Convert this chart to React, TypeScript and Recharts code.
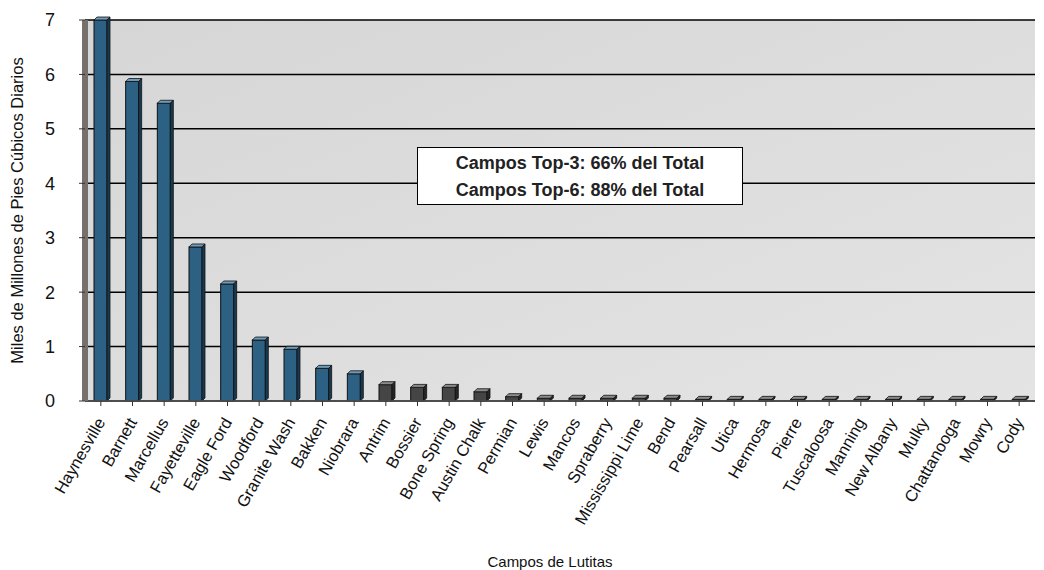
import React from 'react'
import { BarChart, Bar, Cell, XAxis, YAxis, CartesianGrid, Label } from 'recharts'

const campos = [
  'Haynesville', 'Barnett', 'Marcellus', 'Fayetteville', 'Eagle Ford', 'Woodford',
  'Granite Wash', 'Bakken', 'Niobrara', 'Antrim', 'Bossier', 'Bone Spring',
  'Austin Chalk', 'Permian', 'Lewis', 'Mancos', 'Spraberry', 'Mississippi Lime',
  'Bend', 'Pearsall', 'Utica', 'Hermosa', 'Pierre', 'Tuscaloosa', 'Manning',
  'New Albany', 'Mulky', 'Chattanooga', 'Mowry', 'Cody',
]

const produccion = [
  7.0, 5.87, 5.47, 2.83, 2.15, 1.12, 0.95, 0.6, 0.5, 0.3, 0.25, 0.25, 0.17, 0.08,
  0.05, 0.05, 0.05, 0.05, 0.05, 0.03, 0.03, 0.03, 0.03, 0.03, 0.03, 0.03, 0.03,
  0.03, 0.03, 0.03,
]

const yTicks = [0, 1, 2, 3, 4, 5, 6, 7]

const notas = ['Campos Top-3: 66% del Total', 'Campos Top-6: 88% del Total']

const data = campos.map((name, i) => ({ name, value: produccion[i] }))

const FONT = '"Liberation Sans Narrow", "Arial Narrow", "Liberation Sans", Arial, sans-serif'

// front face + top + side to fake the old excel 3d look
function Bar3D(props: any) {
  const { x, y, width, height, index } = props
  const blue = index < 9
  const front = blue ? '#2c6184' : '#454545'
  const top = blue ? '#6f9ab8' : '#8a8a8a'
  const side = blue ? '#173a52' : '#262626'
  const d = 3
  const h = Math.max(height, 1)
  return (
    <g>
      <rect x={x} y={y} width={width} height={h} fill={front} stroke="#111" strokeWidth={1} />
      <polygon
        points={`${x},${y} ${x + d},${y - d} ${x + width + d},${y - d} ${x + width},${y}`}
        fill={top}
        stroke="#111"
        strokeWidth={0.8}
      />
      <polygon
        points={`${x + width},${y} ${x + width + d},${y - d} ${x + width + d},${y + h - d} ${x + width},${y + h}`}
        fill={side}
        stroke="#111"
        strokeWidth={0.8}
      />
    </g>
  )
}

function SlantTick(props: any) {
  const { x, y, payload } = props
  return (
    <g transform={`translate(${x + 5},${y + 14})`}>
      <text
        x={0}
        y={0}
        textAnchor="end"
        transform="rotate(-60)"
        fontSize={16.5}
        fontFamily={FONT}
        fill="#111"
      >
        {payload.value}
      </text>
    </g>
  )
}

export default function App() {
  return (
    <div style={{ position: 'absolute', left: 0, top: 0, width: 1044, height: 570, background: '#fff' }}>
      <svg width={0} height={0} style={{ position: 'absolute' }}>
        <defs>
          <linearGradient id="plotBg" x1="0" y1="0" x2="1" y2="1">
            <stop offset="0%" stopColor="#d6d6d6" />
            <stop offset="100%" stopColor="#e4e4e4" />
          </linearGradient>
        </defs>
      </svg>
      <BarChart
        width={1044}
        height={570}
        data={data}
        margin={{ top: 20, right: 9, left: 0, bottom: 0 }}
        barSize={13}
      >
        <CartesianGrid
          vertical={false}
          stroke="#000"
          strokeWidth={1.5}
          fill="url(#plotBg)"
          fillOpacity={1}
        />
        <XAxis
          dataKey="name"
          interval={0}
          height={169}
          tick={<SlantTick />}
          tickLine={{ stroke: '#333' }}
          tickSize={5}
          axisLine={{ stroke: '#555', strokeWidth: 1.5 }}
        >
          <Label
            value="Campos de Lutitas"
            position="insideBottom"
            offset={3}
            dx={-10}
            fontSize={15}
            fontFamily={FONT}
            fill="#111"
          />
        </XAxis>
        <YAxis
          domain={[0, 7]}
          ticks={yTicks}
          width={85}
          tickSize={6}
          tickLine={{ stroke: '#333' }}
          axisLine={{ stroke: '#77716c', strokeWidth: 6 }}
          tick={{ fontSize: 18, fontFamily: FONT, fill: '#111', dx: -22 }}
        >
          <Label
            value="Miles de Millones de Pies Cúbicos Diarios"
            angle={-90}
            position="insideLeft"
            offset={17}
            style={{ textAnchor: 'middle' }}
            fontSize={16.5}
            fontFamily={FONT}
            fill="#111"
          />
        </YAxis>
        <YAxis
          yAxisId="right"
          orientation="right"
          width={0}
          tick={false}
          tickLine={false}
          axisLine={{ stroke: '#000', strokeWidth: 3 }}
        />
        <Bar dataKey="value" shape={<Bar3D />} isAnimationActive={false}>
          {data.map((_, i) => (
            <Cell key={i} />
          ))}
        </Bar>
      </BarChart>
      <div
        style={{
          position: 'absolute',
          left: 417,
          top: 147,
          width: 326,
          height: 58,
          background: '#fff',
          border: '1px solid #000',
          fontFamily: FONT,
          fontSize: 18,
          fontWeight: 600,
          color: '#222',
          textAlign: 'center',
          lineHeight: '27px',
          paddingTop: 2,
          boxSizing: 'border-box',
        }}
      >
        {notas.map((t) => (
          <div key={t}>{t}</div>
        ))}
      </div>
    </div>
  )
}
